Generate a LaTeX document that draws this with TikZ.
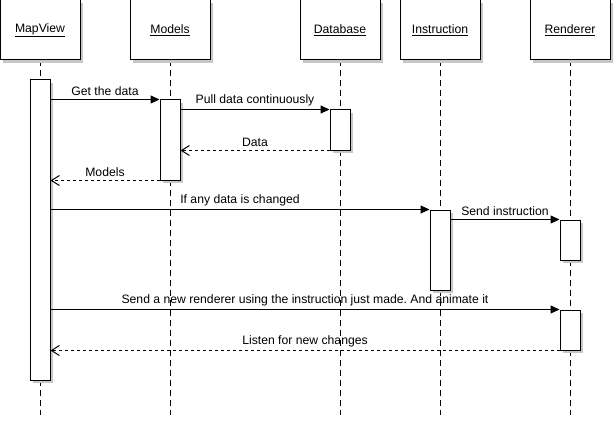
\documentclass[tikz,border=0pt]{standalone}
\usepackage{fontspec}
\setmainfont{Liberation Sans}
\usetikzlibrary{arrows.meta,shadows}
\frenchspacing

\begin{document}
\begin{tikzpicture}
  [x=1pt,y=-1pt,line width=1pt,
   font=\fontsize{12.2}{14}\selectfont,
   actor/.style={draw,fill=white,minimum width=80pt,minimum height=60pt,inner sep=0pt,
     drop shadow={shadow xshift=3pt,shadow yshift=-3pt,fill=black!22,opacity=1}},
   bar/.style={draw,fill=white,minimum width=20pt,inner sep=0pt,
     drop shadow={shadow xshift=3pt,shadow yshift=-3pt,fill=black!22,opacity=1}},
   lifeline/.style={dash pattern=on 6pt off 4pt},
   call/.style={-{Triangle[length=9pt,width=8pt]}},
   reply/.style={dash pattern=on 3pt off 3pt,-{Straight Barb[length=8pt,width=10pt]}}]
  \useasboundingbox (0,0) rectangle (615,425);

  % lifelines with header boxes
  \foreach \name/\x/\txt in {mv/40/MapView,md/170/Models,db/340/Database,in/440/Instruction,rn/570/Renderer}{
    \draw[lifeline] (\x,60) -- (\x,415);
    \node[actor] (\name) at (\x,30) {\underline{\txt}};
  }

  % activation bars
  \node[bar,minimum height=300pt] (mvbar) at (40,230) {};
  \node[bar,minimum height=80pt] (mdbar) at (170,140) {};
  \node[bar,minimum height=40pt] (dbbar) at (340,130) {};
  \node[bar,minimum height=80pt] (inbar) at (440,250) {};
  \node[bar,minimum height=40pt] (rnbar) at (570,240) {};
  \node[bar,minimum height=40pt] (rnbarb) at (570,330) {};

  % messages
  \draw[call] (mvbar.east |- mdbar.north) -- node[above] {Get the data} (mdbar.north west);
  \draw[call] (mdbar.east |- dbbar.north) -- node[above] {Pull data continuously} (dbbar.north west);
  \draw[reply] (dbbar.south west) -- node[above] {Data} (mdbar.east |- dbbar.south);
  \draw[reply] (mdbar.south west) -- node[above] {Models} (mvbar.east |- mdbar.south);
  \draw[call] (mvbar.east |- inbar.north) -- node[above] {If any data is changed} (inbar.north west);
  \draw[call] (inbar.east |- rnbar.north) -- node[above] {Send instruction} (rnbar.north west);
  \draw[call] (mvbar.east |- rnbarb.north) -- node[above] {Send a new renderer using the instruction just made. And animate it} (rnbarb.north west);
  \draw[reply] (rnbarb.south west) -- node[above] {Listen for new changes} (mvbar.east |- rnbarb.south);
\end{tikzpicture}
\end{document}
